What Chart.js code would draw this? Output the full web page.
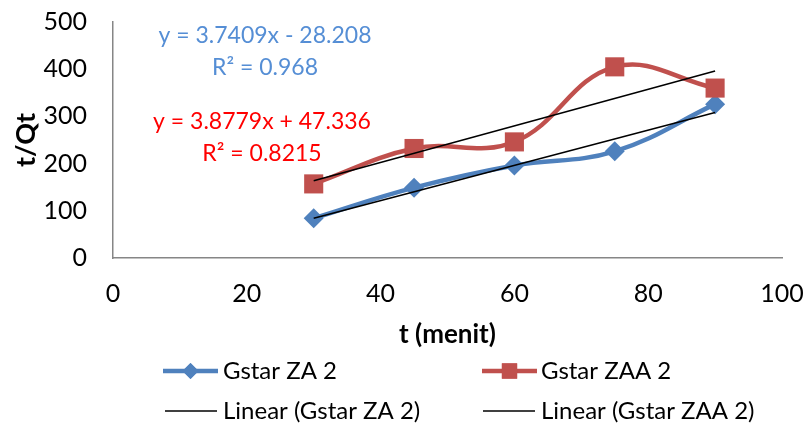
<!DOCTYPE html>
<html>
<head>
<meta charset="utf-8">
<script src="https://cdn.jsdelivr.net/npm/chart.js@4/dist/chart.umd.min.js"></script>
<style>
  html, body { margin: 0; padding: 0; background: #fff; }
  #wrap { width: 805px; height: 423px; position: relative; }
</style>
</head>
<body>
<div id="wrap"><canvas id="chart" width="805" height="423"></canvas></div>
<script>
// data
const timeMinutes = [30, 45, 60, 75, 90];
const gstarZA2 = [84, 149, 196, 226, 326];
const gstarZAA2 = [157, 232, 246, 405, 360];

// trendline equations as printed on the chart
const slopeZA2 = 3.7409, interceptZA2 = -28.208, r2ZA2 = '0.968';
const slopeZAA2 = 3.8779, interceptZAA2 = 47.336, r2ZAA2 = '0.8215';

const xTicksMax = 100, xStep = 20;
const yTicksMax = 500, yStep = 100;

const BLUE = '#4F81BD';
const RED = '#C0504D';
const FONT = 'Lato, "Open Sans", sans-serif';

const toPoints = (ys) => timeMinutes.map((x, i) => ({ x: x, y: ys[i] }));
const trendPoints = (m, b) => {
    const x0 = timeMinutes[0], x1 = timeMinutes[timeMinutes.length - 1];
    return [{ x: x0, y: m * x0 + b }, { x: x1, y: m * x1 + b }];
};

// equation labels + legend drawn on the canvas
const extras = {
    id: 'extras',
    afterDraw(chart) {
        const ctx = chart.ctx;
        ctx.save();
        ctx.textAlign = 'center';
        ctx.textBaseline = 'middle';
        ctx.font = '23px ' + FONT;
        ctx.fillStyle = '#558ED5';
        ctx.fillText('y = ' + slopeZA2 + 'x - ' + Math.abs(interceptZA2), 265, 36);
        ctx.fillText('R² = ' + r2ZA2, 265, 68);
        ctx.fillStyle = '#FF0000';
        ctx.fillText('y = ' + slopeZAA2 + 'x + ' + interceptZAA2, 262, 122);
        ctx.fillText('R² = ' + r2ZAA2, 262, 154);

        // legend
        const items = [
            { text: 'Gstar ZA 2', ds: 0, x: 163, y: 371 },
            { text: 'Gstar ZAA 2', ds: 1, x: 482, y: 371 },
            { text: 'Linear (Gstar ZA 2)', ds: 2, x: 165, y: 411 },
            { text: 'Linear (Gstar ZAA 2)', ds: 3, x: 483, y: 411 }
        ];
        ctx.textAlign = 'left';
        ctx.font = '24px ' + FONT;
        items.forEach(it => {
            const d = chart.data.datasets[it.ds];
            const w = d.pointRadius > 0 ? 55 : 52;
            ctx.strokeStyle = d.borderColor;
            ctx.lineWidth = d.borderWidth;
            ctx.beginPath();
            ctx.moveTo(it.x, it.y);
            ctx.lineTo(it.x + w, it.y);
            ctx.stroke();
            if (d.pointRadius > 0) {
                ctx.fillStyle = d.backgroundColor;
                Chart.helpers.drawPoint(ctx, { pointStyle: d.pointStyle, radius: d.pointRadius * 0.8, borderWidth: 0, rotation: 0 }, it.x + w / 2, it.y);
                ctx.fill();
            }
            ctx.fillStyle = '#000';
            ctx.fillText(it.text, 223 + (it.x > 300 ? 318 : 0), it.y);
        });
        ctx.restore();
    }
};

new Chart(document.getElementById('chart'), {
    type: 'scatter',
    data: {
        datasets: [{
            label: 'Gstar ZA 2',
            data: toPoints(gstarZA2),
            showLine: true,
            borderColor: BLUE,
            backgroundColor: BLUE,
            borderWidth: 4.5,
            pointStyle: 'rectRot',
            pointRadius: 10,
            pointBorderWidth: 0,
            tension: 0.4,
            order: 2
        }, {
            label: 'Gstar ZAA 2',
            data: toPoints(gstarZAA2),
            showLine: true,
            borderColor: RED,
            backgroundColor: RED,
            borderWidth: 4.5,
            pointStyle: 'rect',
            pointRadius: 13.5,
            pointBorderWidth: 0,
            tension: 0.4,
            order: 1
        }, {
            label: 'Linear (Gstar ZA 2)',
            data: trendPoints(slopeZA2, interceptZA2),
            showLine: true,
            borderColor: '#000',
            backgroundColor: '#000',
            borderWidth: 1.5,
            pointRadius: 0,
            order: 0
        }, {
            label: 'Linear (Gstar ZAA 2)',
            data: trendPoints(slopeZAA2, interceptZAA2),
            showLine: true,
            borderColor: '#000',
            backgroundColor: '#000',
            borderWidth: 1.5,
            pointRadius: 0,
            order: 0
        }]
    },
    options: {
        responsive: false,
        animation: false,
        layout: { padding: { left: 10, right: 23, top: 22, bottom: 73 } },
        plugins: {
            legend: { display: false },
            tooltip: { enabled: false }
        },
        scales: {
            x: {
                type: 'linear',
                min: 0, max: xTicksMax,
                grid: { display: false, drawTicks: false },
                border: { display: true, color: '#868686', width: 1.5 },
                ticks: { stepSize: xStep, padding: 21, color: '#000', font: { family: FONT, size: 25 } },
                title: { display: true, text: 't (menit)', color: '#000', padding: 0, font: { family: FONT, size: 26, weight: 'bold' } },
                afterFit(scale) {
                    scale.height = 92;
                    scale.paddingLeft = 0;
                    scale.paddingRight = 0;
                }
            },
            y: {
                min: 0, max: yTicksMax,
                grid: { display: false, drawTicks: false },
                border: { display: true, color: '#868686', width: 1.5 },
                ticks: { stepSize: yStep, padding: 26, color: '#000', font: { family: FONT, size: 25 } },
                title: { display: true, text: 't/Qt', color: '#000', padding: 0, font: { family: FONT, size: 27, weight: 'bold' } },
                afterFit(scale) {
                    scale.width = 103;
                    scale.paddingTop = 0;
                    scale.paddingBottom = 0;
                }
            }
        }
    },
    plugins: [extras]
});
</script>
</body>
</html>
